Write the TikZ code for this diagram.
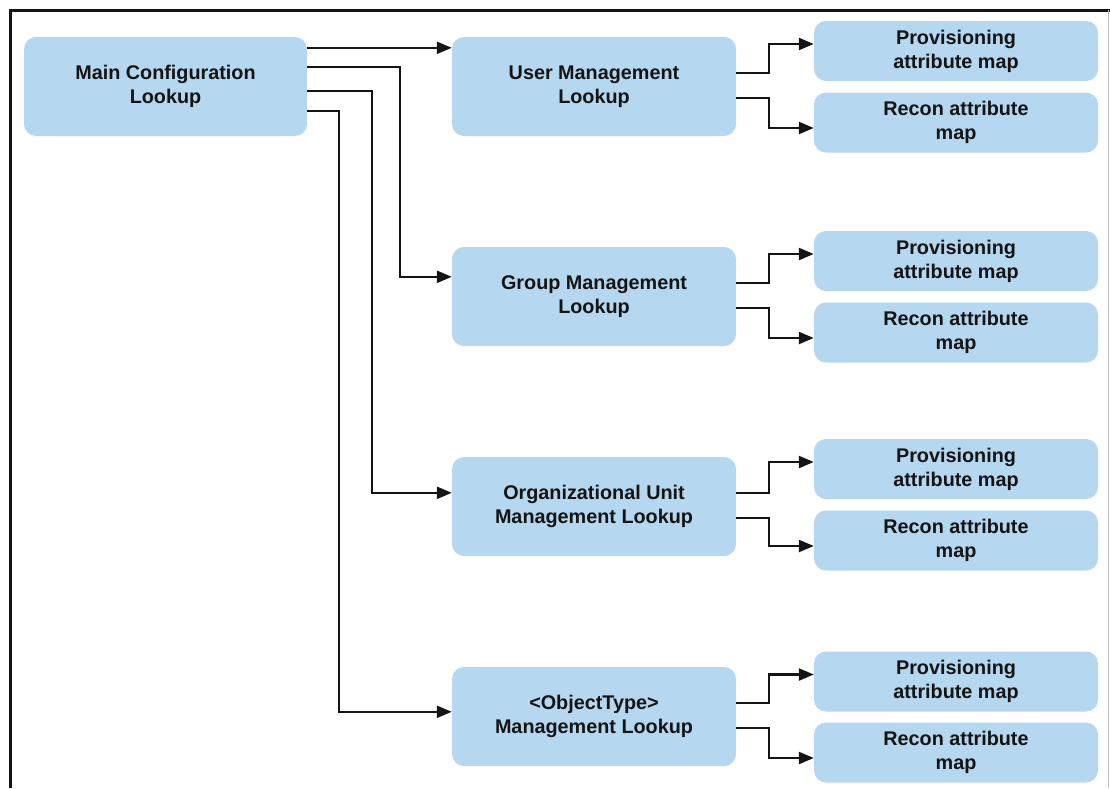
\documentclass[tikz,border=0pt]{standalone}
\usepackage{fontspec}
\setmainfont{Liberation Sans}
\usetikzlibrary{calc,arrows.meta}
\definecolor{boxblue}{RGB}{182,215,240}
\definecolor{ink}{RGB}{20,20,20}
\begin{document}
\begin{tikzpicture}[x=1pt,y=-1pt,
  box/.style={fill=boxblue,rounded corners=12pt,inner sep=0pt,align=center,
    text=ink,font=\fontsize{19.8}{24}\selectfont\bfseries},
  bigbox/.style={box,minimum width=284pt,minimum height=99pt},
  smallbox/.style={box,minimum width=284pt,minimum height=60pt},
  arr/.style={draw=ink,line width=2.3pt,-{Triangle[length=15pt,width=12pt]}}]
\useasboundingbox (0,0) rectangle (1110,788);
% frame
\draw[ink,line width=3pt] (10,788) -- (10,10) -- (1110,10);
\draw[black!25,line width=1pt] (1108.5,10) -- (1108.5,788);
% nodes
\node[bigbox,minimum width=283pt] (main) at (165.5,86.5) {Main Configuration\\Lookup};
\node[bigbox] (user) at (594,86.5) {User Management\\Lookup};
\node[bigbox] (group) at (594,296.5) {Group Management\\Lookup};
\node[bigbox] (ou) at (594,506.5) {Organizational Unit\\Management Lookup};
\node[bigbox] (obj) at (594,716.5) {<ObjectType>\\Management Lookup};
\node[smallbox] (p1) at (956,51) {Provisioning\\attribute map};
\node[smallbox] (r1) at (956,122.5) {Recon attribute\\map};
\node[smallbox] (p2) at (956,261) {Provisioning\\attribute map};
\node[smallbox] (r2) at (956,332.5) {Recon attribute\\map};
\node[smallbox] (p3) at (956,469) {Provisioning\\attribute map};
\node[smallbox] (r3) at (956,540.5) {Recon attribute\\map};
\node[smallbox] (p4) at (956,681.5) {Provisioning\\attribute map};
\node[smallbox] (r4) at (956,752.5) {Recon attribute\\map};
% main connectors
\draw[arr] ($(main.north east)+(0,11)$) -- ($(user.north west)+(0,11)$);
\draw[arr] ($(main.north east)+(0,30)$) -| ($(group.north west)+(-52,30)$) -- ($(group.north west)+(0,30)$);
\draw[arr] ($(main.north east)+(0,54)$) -| ($(ou.north west)+(-80,36)$) -- ($(ou.north west)+(0,36)$);
\draw[arr] ($(main.north east)+(0,74)$) -| ($(obj.north west)+(-113,45)$) -- ($(obj.north west)+(0,45)$);
% right connectors
\foreach \m/\p/\r in {user/p1/r1,group/p2/r2,ou/p3/r3,obj/p4/r4}{
  \draw[arr] ($(\m.north east)+(0,36)$) -| ($(\p.west)+(-45,-7)$) -- ($(\p.west)+(0,-7)$);
  \draw[arr] ($(\m.north east)+(0,61)$) -| ($(\r.west)+(-45,5.5)$) -- ($(\r.west)+(0,5.5)$);
}
\end{tikzpicture}
\end{document}
